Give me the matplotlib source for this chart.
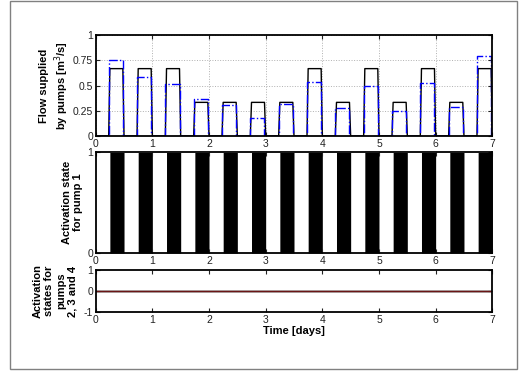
import numpy as np
import matplotlib.pyplot as plt
from matplotlib.patches import Rectangle

plt.rcParams['font.family'] = ['Liberation Sans', 'DejaVu Sans']
plt.rcParams['font.size'] = 7
plt.rcParams['axes.unicode_minus'] = False

# pump 1 switches on at these times (days), for a quarter of a day each
on_times = [0.25, 0.75, 1.25, 1.75, 2.25, 2.75, 3.25,
            3.75, 4.25, 4.75, 5.25, 5.75, 6.25, 6.75]
on_length = 0.25
# flow levels during each on period [m3/s]
flow_pump = [0.667, 0.667, 0.667, 0.333, 0.333, 0.333, 0.333,
             0.667, 0.333, 0.667, 0.333, 0.667, 0.333, 0.667]
flow_demand = [0.755, 0.585, 0.515, 0.365, 0.305, 0.18, 0.32,
               0.53, 0.28, 0.50, 0.245, 0.525, 0.29, 0.79]

dt = 1.0 / 48
t = np.arange(0, 7 + dt / 2, dt)
q_pump = np.zeros_like(t)
q_dem = np.zeros_like(t)
state1 = np.zeros_like(t)
for t0, qp, qd in zip(on_times, flow_pump, flow_demand):
    m = (t >= t0 - 1e-9) & (t < t0 + on_length - 1e-9)
    q_pump[m] = qp
    q_dem[m] = qd
    state1[m] = 1
state234 = [np.zeros_like(t), np.zeros_like(t), np.zeros_like(t)]

W, H = 524, 373
fig = plt.figure(figsize=(W / 100, H / 100), dpi=100)

def box(top, bottom):
    return [95.7 / W, 1 - bottom / H, 396.6 / W, (bottom - top) / H]

def style(ax):
    ax.tick_params(direction='in', top=True, right=True, length=3,
                   width=0.8, labelsize=7.5, pad=2, colors='#222222')
    for s in ax.spines.values():
        s.set_linewidth(1.3)
    ax.set_xlim(0, 7)
    ax.set_xticks(range(8))

ax1 = fig.add_axes(box(35, 136))
ax1.plot(t, q_pump, color='black', lw=1.0)
ax1.plot(t, q_dem, color='blue', lw=1.0, ls='-.', drawstyle='steps-pre')
ax1.set_ylim(0, 1)
ax1.set_yticks([0, 0.25, 0.5, 0.75, 1])
ax1.set_yticklabels(['0', '0.25', '0.5', '0.75', '1'])
ax1.grid(True, ls=':', color='#b0b0b0', lw=0.7)
style(ax1)

ax2 = fig.add_axes(box(152.5, 253))
ax2.fill_between(t, 0, state1, step='post', color='black', lw=0)
ax2.set_ylim(0, 1)
ax2.set_yticks([0, 1])
style(ax2)

ax3 = fig.add_axes(box(270, 312))
for s in state234[:-1]:
    ax3.plot(t, s, color='#333333', lw=1.0)
ax3.plot(t, state234[-1], color='#6a1515', lw=1.0)
ax3.set_ylim(-1, 1)
ax3.set_yticks([-1, 0, 1])
style(ax3)
ax3.set_xlabel('Time [days]', fontweight='bold', fontsize=8, labelpad=1)

lab = dict(rotation=90, ha='center', va='center', fontweight='bold',
           fontsize=8, linespacing=1.2)
fig.text(55 / W, 1 - 86 / H, 'Flow supplied\nby pumps [m$^3$/s]', **lab)
fig.text(72.5 / W, 1 - 202.5 / H, 'Activation state\nfor pump 1', **lab)
fig.text(55 / W, 1 - 291 / H, 'Activation\nstates for\npumps\n2, 3 and 4', **lab)

fig.patches.append(Rectangle((10 / W, 1 - 369 / H), 506.5 / W, 368 / H,
                             transform=fig.transFigure, fill=False,
                             edgecolor='#808080', lw=1.0))

fig.savefig('out.png', dpi=100)
